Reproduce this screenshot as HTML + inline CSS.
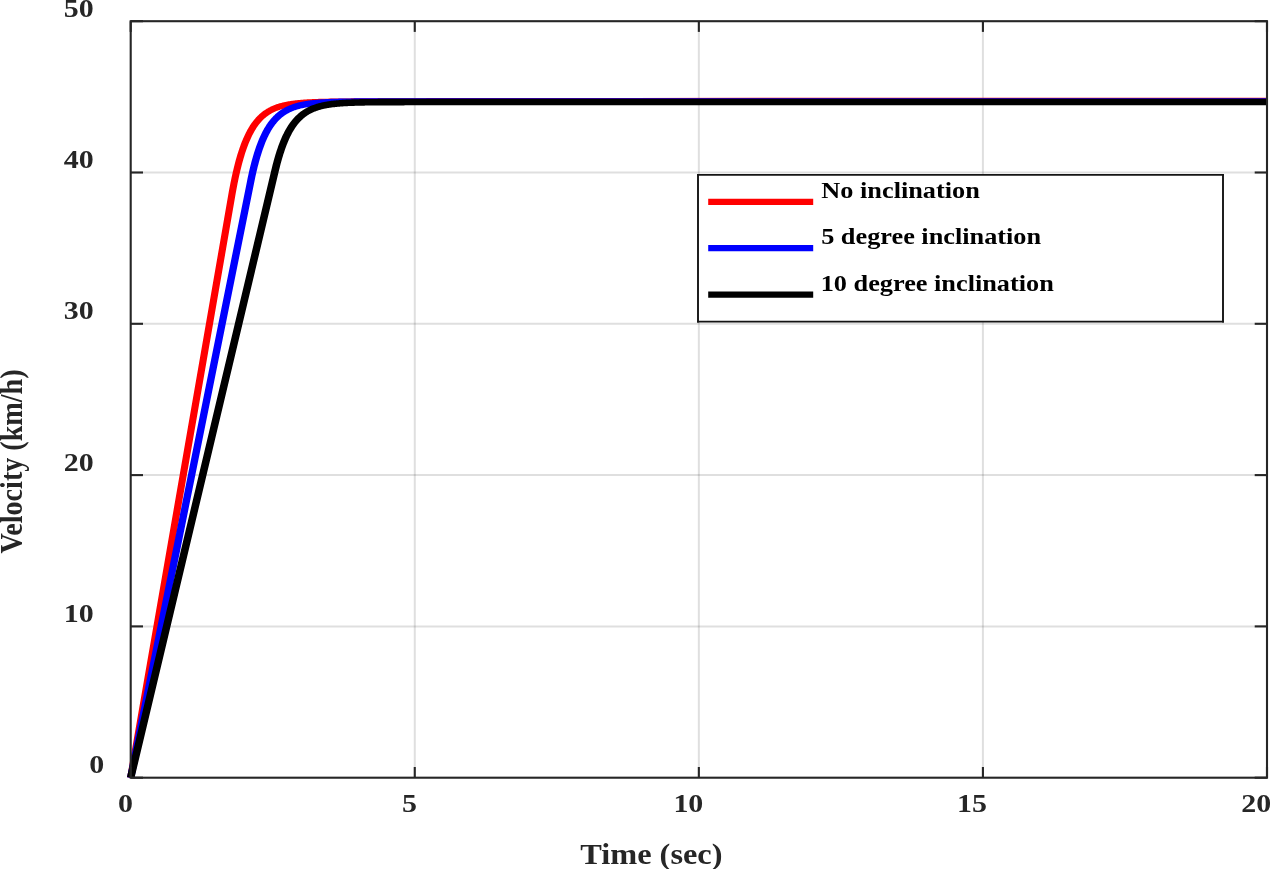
<!DOCTYPE html>
<html><head><meta charset="utf-8"><style>
html,body{margin:0;padding:0;background:#fff;overflow:hidden;}
svg{display:block;will-change:transform;}
text{font-family:"Liberation Serif",serif;font-weight:bold;}
</style></head><body>
<svg width="1270" height="869" viewBox="0 0 1270 869">
<rect width="1270" height="869" fill="#fff"/>

<g stroke="#262626" stroke-opacity="0.15" stroke-width="2"><line x1="414.77" y1="21.20" x2="414.77" y2="777.70"/><line x1="698.85" y1="21.20" x2="698.85" y2="777.70"/><line x1="982.92" y1="21.20" x2="982.92" y2="777.70"/><line x1="130.70" y1="626.40" x2="1267.00" y2="626.40"/><line x1="130.70" y1="475.10" x2="1267.00" y2="475.10"/><line x1="130.70" y1="323.80" x2="1267.00" y2="323.80"/><line x1="130.70" y1="172.50" x2="1267.00" y2="172.50"/></g>
<clipPath id="c"><rect x="108.43" y="1.20" width="993.30" height="777.50"/></clipPath>
<g transform="scale(1.15,1)" clip-path="url(#c)" fill="none" stroke-width="6.0" stroke-linejoin="round">
<path stroke="#ff0000" stroke-width="6.2" d="M113.65,777.70 L201.51,195.53 L202.00,192.31 L202.49,189.20 L202.99,186.20 L203.48,183.31 L203.98,180.51 L204.47,177.81 L204.96,175.20 L205.46,172.68 L205.95,170.24 L206.45,167.89 L206.94,165.62 L207.43,163.43 L207.93,161.32 L208.42,159.27 L208.92,157.30 L209.41,155.39 L209.90,153.55 L210.40,151.77 L210.89,150.06 L211.39,148.40 L211.88,146.80 L212.37,145.25 L212.87,143.76 L213.36,142.32 L213.86,140.93 L214.35,139.58 L214.85,138.28 L215.34,137.03 L215.83,135.82 L216.33,134.65 L216.82,133.52 L217.32,132.43 L217.81,131.37 L218.30,130.35 L218.80,129.37 L219.29,128.42 L219.79,127.51 L220.28,126.62 L220.77,125.77 L221.27,124.94 L221.76,124.14 L222.26,123.37 L222.75,122.63 L223.24,121.91 L223.74,121.22 L224.23,120.55 L224.73,119.90 L225.22,119.28 L225.71,118.67 L226.21,118.09 L226.70,117.53 L227.20,116.98 L227.69,116.46 L228.18,115.95 L228.68,115.46 L229.17,114.99 L229.67,114.53 L230.16,114.09 L230.65,113.66 L231.15,113.25 L231.64,112.85 L232.14,112.47 L232.63,112.10 L233.12,111.74 L233.62,111.39 L234.11,111.06 L234.61,110.74 L235.10,110.42 L235.59,110.12 L236.09,109.83 L236.58,109.55 L237.08,109.28 L237.57,109.02 L238.07,108.76 L238.56,108.52 L239.05,108.28 L239.55,108.05 L240.04,107.83 L240.54,107.62 L241.03,107.41 L241.52,107.21 L242.02,107.02 L242.51,106.84 L243.01,106.66 L243.50,106.48 L243.99,106.32 L244.49,106.15 L244.98,106.00 L245.48,105.85 L245.97,105.70 L246.46,105.56 L246.96,105.42 L247.45,105.29 L247.95,105.17 L248.44,105.04 L248.93,104.92 L249.43,104.81 L249.92,104.70 L250.42,104.59 L250.91,104.49 L251.40,104.39 L251.90,104.29 L252.39,104.20 L252.89,104.11 L253.38,104.02 L253.87,103.93 L254.37,103.85 L254.86,103.77 L255.36,103.70 L255.85,103.62 L256.34,103.55 L256.84,103.48 L257.33,103.42 L257.83,103.35 L258.32,103.29 L258.82,103.23 L259.31,103.17 L259.80,103.12 L260.30,103.06 L260.79,103.01 L261.29,102.96 L261.78,102.91 L262.27,102.86 L262.77,102.82 L263.26,102.77 L263.76,102.73 L264.25,102.69 L264.74,102.65 L265.24,102.61 L265.73,102.57 L266.23,102.53 L266.72,102.50 L267.21,102.46 L267.71,102.43 L268.20,102.40 L268.70,102.37 L269.19,102.34 L269.68,102.31 L270.18,102.28 L270.67,102.25 L271.17,102.23 L271.66,102.20 L272.15,102.18 L272.65,102.15 L273.14,102.13 L273.64,102.11 L274.13,102.08 L274.62,102.06 L275.12,102.04 L275.61,102.02 L276.11,102.00 L276.60,101.99 L277.09,101.97 L277.59,101.95 L278.08,101.93 L278.58,101.92 L279.07,101.90 L279.56,101.89 L280.06,101.87 L280.55,101.86 L281.05,101.84 L281.54,101.83 L282.04,101.82 L282.53,101.80 L283.02,101.79 L283.52,101.78 L284.01,101.77 L284.51,101.75 L285.00,101.74 L285.49,101.73 L285.99,101.72 L286.48,101.71 L286.98,101.70 L287.47,101.69 L287.96,101.68 L288.46,101.67 L288.95,101.67 L289.45,101.66 L289.94,101.65 L290.43,101.64 L290.93,101.63 L291.42,101.62 L291.92,101.62 L292.41,101.61 L292.90,101.60 L293.40,101.60 L293.89,101.59 L294.39,101.58 L294.88,101.58 L295.37,101.57 L295.87,101.56 L296.36,101.56 L296.86,101.55 L297.35,101.55 L297.84,101.54 L298.34,101.54 L298.83,101.53 L299.33,101.53 L299.82,101.52 L300.31,101.52 L300.81,101.51 L301.30,101.51 L301.80,101.50 L302.29,101.50 L302.78,101.49 L303.28,101.49 L303.77,101.48 L304.27,101.48 L304.76,101.48 L305.26,101.47 L305.75,101.47 L306.24,101.46 L306.74,101.46 L307.23,101.46 L307.73,101.45 L308.22,101.45 L308.71,101.45 L309.21,101.44 L309.70,101.44 L310.20,101.44 L310.69,101.43 L311.18,101.43 L311.68,101.43 L312.17,101.42 L312.67,101.42 L313.16,101.42 L313.65,101.42 L314.15,101.41 L314.64,101.41 L315.14,101.41 L315.63,101.41 L316.12,101.40 L316.62,101.40 L317.11,101.40 L317.61,101.39 L318.10,101.39 L318.59,101.39 L319.09,101.39 L319.58,101.39 L320.08,101.38 L320.57,101.38 L321.06,101.38 L321.56,101.38 L322.05,101.37 L322.55,101.37 L323.04,101.37 L323.53,101.37 L324.03,101.37 L324.52,101.36 L325.02,101.36 L325.51,101.36 L326.00,101.36 L326.50,101.35 L326.99,101.35 L327.49,101.35 L327.98,101.35 L328.48,101.35 L328.97,101.35 L329.46,101.34 L329.96,101.34 L330.45,101.34 L330.95,101.34 L331.44,101.34 L331.93,101.33 L332.43,101.33 L332.92,101.33 L333.42,101.33 L333.91,101.33 L334.40,101.33 L334.90,101.32 L335.39,101.32 L335.89,101.32 L336.38,101.32 L336.87,101.32 L337.37,101.32 L337.86,101.31 L338.36,101.31 L338.85,101.31 L339.34,101.31 L339.84,101.31 L340.33,101.31 L340.83,101.30 L341.32,101.30 L341.81,101.30 L342.31,101.30 L342.80,101.30 L343.30,101.30 L343.79,101.30 L344.28,101.29 L344.78,101.29 L345.27,101.29 L345.77,101.29 L346.26,101.29 L346.75,101.29 L347.25,101.29 L347.74,101.28 L348.24,101.28 L348.73,101.28 L349.22,101.28 L349.72,101.28 L350.21,101.28 L350.71,101.28 L351.20,101.27 L351.70,101.27 L352.19,101.27 L352.68,101.27 L353.18,101.27 L353.67,101.27 L354.17,101.27 L354.66,101.26 L355.15,101.26 L355.65,101.26 L356.14,101.26 L356.64,101.26 L357.13,101.26 L357.62,101.26 L358.12,101.26 L358.61,101.25 L359.11,101.25 L359.60,101.25 L360.09,101.25 L360.59,101.25 L361.08,101.25 L361.58,101.25 L362.07,101.25 L362.56,101.24 L363.06,101.24 L363.55,101.24 L364.05,101.24 L364.54,101.24 L365.03,101.24 L365.53,101.24 L366.02,101.24 L366.52,101.24 L367.01,101.23 L367.50,101.23 L368.00,101.23 L368.49,101.23 L368.99,101.23 L369.48,101.23 L369.97,101.23 L370.47,101.23 L370.96,101.22 L371.46,101.22 L371.95,101.22 L372.45,101.22 L372.94,101.22 L373.43,101.22 L373.93,101.22 L374.42,101.22 L374.92,101.22 L375.41,101.21 L375.90,101.21 L376.40,101.21 L376.89,101.21 L377.39,101.21 L377.88,101.21 L378.37,101.21 L378.87,101.21 L379.36,101.21 L379.86,101.20 L380.35,101.20 L380.84,101.20 L381.34,101.20 L381.83,101.20 L382.33,101.20 L382.82,101.20 L383.31,101.20 L383.81,101.20 L384.30,101.20 L384.80,101.19 L385.29,101.19 L385.78,101.19 L386.28,101.19 L386.77,101.19 L387.27,101.19 L387.76,101.19 L388.25,101.19 L388.75,101.19 L389.24,101.19 L389.74,101.18 L390.23,101.18 L390.72,101.18 L391.22,101.18 L391.71,101.18 L392.21,101.18 L392.70,101.18 L393.19,101.18 L393.69,101.18 L394.18,101.18 L394.68,101.17 L395.17,101.17 L395.67,101.17 L396.16,101.17 L396.65,101.17 L397.15,101.17 L397.64,101.17 L398.14,101.17 L398.63,101.17 L399.12,101.17 L399.62,101.17 L448.53,101.09 L547.34,101.00 L706.50,100.93 L904.12,100.91 L1126.44,100.90"/>
<path stroke="#0000ff" stroke-width="6.4" d="M113.65,777.70 L217.95,181.70 L218.44,178.93 L218.93,176.25 L219.43,173.67 L219.92,171.17 L220.42,168.77 L220.91,166.44 L221.41,164.20 L221.90,162.04 L222.39,159.95 L222.89,157.94 L223.38,155.99 L223.88,154.12 L224.37,152.30 L224.86,150.56 L225.36,148.87 L225.85,147.24 L226.35,145.67 L226.84,144.15 L227.33,142.68 L227.83,141.27 L228.32,139.90 L228.82,138.58 L229.31,137.31 L229.80,136.08 L230.30,134.90 L230.79,133.75 L231.29,132.65 L231.78,131.58 L232.27,130.55 L232.77,129.56 L233.26,128.60 L233.76,127.67 L234.25,126.78 L234.74,125.91 L235.24,125.08 L235.73,124.27 L236.23,123.49 L236.72,122.74 L237.21,122.02 L237.71,121.32 L238.20,120.64 L238.70,119.99 L239.19,119.36 L239.68,118.75 L240.18,118.16 L240.67,117.59 L241.17,117.05 L241.66,116.52 L242.15,116.01 L242.65,115.51 L243.14,115.04 L243.64,114.58 L244.13,114.13 L244.63,113.70 L245.12,113.29 L245.61,112.89 L246.11,112.50 L246.60,112.13 L247.10,111.76 L247.59,111.42 L248.08,111.08 L248.58,110.75 L249.07,110.44 L249.57,110.14 L250.06,109.84 L250.55,109.56 L251.05,109.29 L251.54,109.02 L252.04,108.77 L252.53,108.52 L253.02,108.28 L253.52,108.05 L254.01,107.83 L254.51,107.61 L255.00,107.41 L255.49,107.21 L255.99,107.01 L256.48,106.83 L256.98,106.64 L257.47,106.47 L257.96,106.30 L258.46,106.14 L258.95,105.98 L259.45,105.83 L259.94,105.68 L260.43,105.54 L260.93,105.40 L261.42,105.27 L261.92,105.14 L262.41,105.02 L262.90,104.90 L263.40,104.78 L263.89,104.67 L264.39,104.56 L264.88,104.46 L265.37,104.35 L265.87,104.26 L266.36,104.16 L266.86,104.07 L267.35,103.98 L267.85,103.90 L268.34,103.82 L268.83,103.74 L269.33,103.66 L269.82,103.58 L270.32,103.51 L270.81,103.44 L271.30,103.38 L271.80,103.31 L272.29,103.25 L272.79,103.19 L273.28,103.13 L273.77,103.07 L274.27,103.02 L274.76,102.96 L275.26,102.91 L275.75,102.86 L276.24,102.82 L276.74,102.77 L277.23,102.73 L277.73,102.68 L278.22,102.64 L278.71,102.60 L279.21,102.56 L279.70,102.52 L280.20,102.49 L280.69,102.45 L281.18,102.42 L281.68,102.38 L282.17,102.35 L282.67,102.32 L283.16,102.29 L283.65,102.26 L284.15,102.23 L284.64,102.21 L285.14,102.18 L285.63,102.16 L286.12,102.13 L286.62,102.11 L287.11,102.08 L287.61,102.06 L288.10,102.04 L288.59,102.02 L289.09,102.00 L289.58,101.98 L290.08,101.96 L290.57,101.94 L291.07,101.93 L291.56,101.91 L292.05,101.89 L292.55,101.88 L293.04,101.86 L293.54,101.85 L294.03,101.83 L294.52,101.82 L295.02,101.81 L295.51,101.79 L296.01,101.78 L296.50,101.77 L296.99,101.76 L297.49,101.74 L297.98,101.73 L298.48,101.72 L298.97,101.71 L299.46,101.70 L299.96,101.69 L300.45,101.68 L300.95,101.67 L301.44,101.67 L301.93,101.66 L302.43,101.65 L302.92,101.64 L303.42,101.63 L303.91,101.63 L304.40,101.62 L304.90,101.61 L305.39,101.60 L305.89,101.60 L306.38,101.59 L306.87,101.59 L307.37,101.58 L307.86,101.57 L308.36,101.57 L308.85,101.56 L309.34,101.56 L309.84,101.55 L310.33,101.55 L310.83,101.54 L311.32,101.54 L311.81,101.53 L312.31,101.53 L312.80,101.53 L313.30,101.52 L313.79,101.52 L314.29,101.51 L314.78,101.51 L315.27,101.51 L315.77,101.50 L316.26,101.50 L316.76,101.50 L317.25,101.49 L317.74,101.49 L318.24,101.49 L318.73,101.49 L319.23,101.48 L319.72,101.48 L320.21,101.48 L320.71,101.48 L321.20,101.47 L321.70,101.47 L322.19,101.47 L322.68,101.47 L323.18,101.46 L323.67,101.46 L324.17,101.46 L324.66,101.46 L325.15,101.46 L325.65,101.45 L326.14,101.45 L326.64,101.45 L327.13,101.45 L327.62,101.45 L328.12,101.45 L328.61,101.45 L329.11,101.44 L329.60,101.44 L330.09,101.44 L330.59,101.44 L331.08,101.44 L331.58,101.44 L332.07,101.44 L332.56,101.44 L333.06,101.43 L333.55,101.43 L334.05,101.43 L334.54,101.43 L335.04,101.43 L335.53,101.43 L336.02,101.43 L336.52,101.43 L337.01,101.43 L337.51,101.43 L338.00,101.42 L338.49,101.42 L338.99,101.42 L339.48,101.42 L339.98,101.42 L340.47,101.42 L340.96,101.42 L341.46,101.42 L341.95,101.42 L342.45,101.42 L342.94,101.42 L343.43,101.42 L343.93,101.42 L344.42,101.42 L344.92,101.42 L345.41,101.42 L345.90,101.41 L346.40,101.41 L346.89,101.41 L347.39,101.41 L347.88,101.41 L348.37,101.41 L348.87,101.41 L349.36,101.41 L349.86,101.41 L350.35,101.41 L350.84,101.41 L351.34,101.41 L351.83,101.41 L352.33,101.41 L352.82,101.41 L353.31,101.41 L353.81,101.41 L354.30,101.41 L354.80,101.41 L355.29,101.41 L355.78,101.41 L356.28,101.41 L356.77,101.41 L357.27,101.41 L357.76,101.41 L358.26,101.41 L358.75,101.41 L359.24,101.41 L359.74,101.41 L360.23,101.41 L360.73,101.41 L361.22,101.41 L361.71,101.41 L362.21,101.41 L362.70,101.40 L363.20,101.40 L363.69,101.40 L364.18,101.40 L364.68,101.40 L365.17,101.40 L365.67,101.40 L366.16,101.40 L366.65,101.40 L367.15,101.40 L367.64,101.40 L368.14,101.40 L368.63,101.40 L369.12,101.40 L369.62,101.40 L370.11,101.40 L370.61,101.40 L371.10,101.40 L371.59,101.40 L372.09,101.40 L372.58,101.40 L373.08,101.40 L373.57,101.40 L374.06,101.40 L374.56,101.40 L375.05,101.40 L375.55,101.40 L376.04,101.40 L376.53,101.40 L377.03,101.40 L377.52,101.40 L378.02,101.40 L378.51,101.40 L379.00,101.40 L379.50,101.40 L379.99,101.40 L380.49,101.40 L380.98,101.40 L381.48,101.40 L381.97,101.40 L382.46,101.40 L382.96,101.40 L383.45,101.40 L383.95,101.40 L384.44,101.40 L384.93,101.40 L385.43,101.40 L385.92,101.40 L386.42,101.40 L386.91,101.40 L387.40,101.40 L387.90,101.40 L388.39,101.40 L388.89,101.40 L389.38,101.40 L389.87,101.40 L390.37,101.40 L390.86,101.40 L391.36,101.40 L391.85,101.40 L392.34,101.40 L392.84,101.40 L393.33,101.40 L393.83,101.40 L394.32,101.40 L394.81,101.40 L395.31,101.40 L395.80,101.40 L396.30,101.40 L396.79,101.40 L397.28,101.40 L397.78,101.40 L398.27,101.40 L398.77,101.40 L399.26,101.40 L399.75,101.40 L400.25,101.40 L400.74,101.40 L401.24,101.40 L401.73,101.40 L402.22,101.40 L402.72,101.40 L403.21,101.40 L403.71,101.40 L404.20,101.40 L404.70,101.40 L405.19,101.40 L405.68,101.40 L406.18,101.40 L406.67,101.40 L407.17,101.40 L407.66,101.40 L408.15,101.40 L408.65,101.40 L409.14,101.40 L409.64,101.40 L410.13,101.40 L410.62,101.40 L411.12,101.40 L411.61,101.40 L412.11,101.40 L412.60,101.40 L413.09,101.40 L413.59,101.40 L414.08,101.40 L414.58,101.40 L415.07,101.40 L415.56,101.40 L416.06,101.40 L464.97,101.40 L563.78,101.40 L706.50,101.40 L904.12,101.40 L1126.44,101.40"/>
<path stroke="#000000" stroke-width="6.6" d="M113.65,777.70 L239.29,170.19 L239.79,167.84 L240.28,165.57 L240.77,163.38 L241.27,161.27 L241.76,159.23 L242.26,157.26 L242.75,155.36 L243.24,153.52 L243.74,151.75 L244.23,150.04 L244.73,148.39 L245.22,146.79 L245.71,145.25 L246.21,143.76 L246.70,142.33 L247.20,140.94 L247.69,139.60 L248.19,138.31 L248.68,137.06 L249.17,135.86 L249.67,134.69 L250.16,133.57 L250.66,132.48 L251.15,131.44 L251.64,130.43 L252.14,129.45 L252.63,128.51 L253.13,127.60 L253.62,126.72 L254.11,125.87 L254.61,125.05 L255.10,124.26 L255.60,123.49 L256.09,122.76 L256.58,122.04 L257.08,121.36 L257.57,120.69 L258.07,120.05 L258.56,119.43 L259.05,118.84 L259.55,118.26 L260.04,117.70 L260.54,117.16 L261.03,116.64 L261.52,116.14 L262.02,115.66 L262.51,115.19 L263.01,114.74 L263.50,114.30 L263.99,113.88 L264.49,113.47 L264.98,113.08 L265.48,112.70 L265.97,112.34 L266.46,111.98 L266.96,111.64 L267.45,111.31 L267.95,110.99 L268.44,110.69 L268.93,110.39 L269.43,110.10 L269.92,109.83 L270.42,109.56 L270.91,109.30 L271.41,109.05 L271.90,108.81 L272.39,108.58 L272.89,108.36 L273.38,108.14 L273.88,107.93 L274.37,107.73 L274.86,107.53 L275.36,107.35 L275.85,107.16 L276.35,106.99 L276.84,106.82 L277.33,106.66 L277.83,106.50 L278.32,106.35 L278.82,106.20 L279.31,106.06 L279.80,105.92 L280.30,105.79 L280.79,105.66 L281.29,105.53 L281.78,105.41 L282.27,105.30 L282.77,105.19 L283.26,105.08 L283.76,104.98 L284.25,104.88 L284.74,104.78 L285.24,104.69 L285.73,104.59 L286.23,104.51 L286.72,104.42 L287.21,104.34 L287.71,104.26 L288.20,104.19 L288.70,104.11 L289.19,104.04 L289.68,103.98 L290.18,103.91 L290.67,103.85 L291.17,103.78 L291.66,103.72 L292.16,103.67 L292.65,103.61 L293.14,103.56 L293.64,103.51 L294.13,103.46 L294.63,103.41 L295.12,103.36 L295.61,103.32 L296.11,103.27 L296.60,103.23 L297.10,103.19 L297.59,103.15 L298.08,103.11 L298.58,103.08 L299.07,103.04 L299.57,103.01 L300.06,102.98 L300.55,102.94 L301.05,102.91 L301.54,102.88 L302.04,102.86 L302.53,102.83 L303.02,102.80 L303.52,102.78 L304.01,102.75 L304.51,102.73 L305.00,102.70 L305.49,102.68 L305.99,102.66 L306.48,102.64 L306.98,102.62 L307.47,102.60 L307.96,102.58 L308.46,102.56 L308.95,102.55 L309.45,102.53 L309.94,102.51 L310.43,102.50 L310.93,102.48 L311.42,102.47 L311.92,102.45 L312.41,102.44 L312.90,102.42 L313.40,102.41 L313.89,102.40 L314.39,102.39 L314.88,102.38 L315.38,102.37 L315.87,102.35 L316.36,102.34 L316.86,102.33 L317.35,102.32 L317.85,102.31 L318.34,102.31 L318.83,102.30 L319.33,102.29 L319.82,102.28 L320.32,102.27 L320.81,102.27 L321.30,102.26 L321.80,102.25 L322.29,102.24 L322.79,102.24 L323.28,102.23 L323.77,102.22 L324.27,102.22 L324.76,102.21 L325.26,102.21 L325.75,102.20 L326.24,102.20 L326.74,102.19 L327.23,102.19 L327.73,102.18 L328.22,102.18 L328.71,102.17 L329.21,102.17 L329.70,102.17 L330.20,102.16 L330.69,102.16 L331.18,102.15 L331.68,102.15 L332.17,102.15 L332.67,102.14 L333.16,102.14 L333.65,102.14 L334.15,102.13 L334.64,102.13 L335.14,102.13 L335.63,102.13 L336.12,102.12 L336.62,102.12 L337.11,102.12 L337.61,102.12 L338.10,102.11 L338.60,102.11 L339.09,102.11 L339.58,102.11 L340.08,102.11 L340.57,102.10 L341.07,102.10 L341.56,102.10 L342.05,102.10 L342.55,102.10 L343.04,102.10 L343.54,102.09 L344.03,102.09 L344.52,102.09 L345.02,102.09 L345.51,102.09 L346.01,102.09 L346.50,102.09 L346.99,102.08 L347.49,102.08 L347.98,102.08 L348.48,102.08 L348.97,102.08 L349.46,102.08 L349.96,102.08 L350.45,102.08 L350.95,102.08 L351.44,102.08 L351.93,102.07 L352.43,102.07 L352.92,102.07 L353.42,102.07 L353.91,102.07 L354.40,102.07 L354.90,102.07 L355.39,102.07 L355.89,102.07 L356.38,102.07 L356.87,102.07 L357.37,102.07 L357.86,102.07 L358.36,102.07 L358.85,102.07 L359.34,102.06 L359.84,102.06 L360.33,102.06 L360.83,102.06 L361.32,102.06 L361.82,102.06 L362.31,102.06 L362.80,102.06 L363.30,102.06 L363.79,102.06 L364.29,102.06 L364.78,102.06 L365.27,102.06 L365.77,102.06 L366.26,102.06 L366.76,102.06 L367.25,102.06 L367.74,102.06 L368.24,102.06 L368.73,102.06 L369.23,102.06 L369.72,102.06 L370.21,102.06 L370.71,102.06 L371.20,102.06 L371.70,102.06 L372.19,102.06 L372.68,102.06 L373.18,102.06 L373.67,102.06 L374.17,102.06 L374.66,102.06 L375.15,102.05 L375.65,102.05 L376.14,102.05 L376.64,102.05 L377.13,102.05 L377.62,102.05 L378.12,102.05 L378.61,102.05 L379.11,102.05 L379.60,102.05 L380.09,102.05 L380.59,102.05 L381.08,102.05 L381.58,102.05 L382.07,102.05 L382.56,102.05 L383.06,102.05 L383.55,102.05 L384.05,102.05 L384.54,102.05 L385.04,102.05 L385.53,102.05 L386.02,102.05 L386.52,102.05 L387.01,102.05 L387.51,102.05 L388.00,102.05 L388.49,102.05 L388.99,102.05 L389.48,102.05 L389.98,102.05 L390.47,102.05 L390.96,102.05 L391.46,102.05 L391.95,102.05 L392.45,102.05 L392.94,102.05 L393.43,102.05 L393.93,102.05 L394.42,102.05 L394.92,102.05 L395.41,102.05 L395.90,102.05 L396.40,102.05 L396.89,102.05 L397.39,102.05 L397.88,102.05 L398.37,102.05 L398.87,102.05 L399.36,102.05 L399.86,102.05 L400.35,102.05 L400.84,102.05 L401.34,102.05 L401.83,102.05 L402.33,102.05 L402.82,102.05 L403.31,102.05 L403.81,102.05 L404.30,102.05 L404.80,102.05 L405.29,102.05 L405.79,102.05 L406.28,102.05 L406.77,102.05 L407.27,102.05 L407.76,102.05 L408.26,102.05 L408.75,102.05 L409.24,102.05 L409.74,102.05 L410.23,102.05 L410.73,102.05 L411.22,102.05 L411.71,102.05 L412.21,102.05 L412.70,102.05 L413.20,102.05 L413.69,102.05 L414.18,102.05 L414.68,102.05 L415.17,102.05 L415.67,102.05 L416.16,102.05 L416.65,102.05 L417.15,102.05 L417.64,102.05 L418.14,102.05 L418.63,102.05 L419.12,102.05 L419.62,102.05 L420.11,102.05 L420.61,102.05 L421.10,102.05 L421.59,102.05 L422.09,102.05 L422.58,102.05 L423.08,102.05 L423.57,102.05 L424.06,102.05 L424.56,102.05 L425.05,102.05 L425.55,102.05 L426.04,102.05 L426.53,102.05 L427.03,102.05 L427.52,102.05 L428.02,102.05 L428.51,102.05 L429.01,102.05 L429.50,102.05 L429.99,102.05 L430.49,102.05 L430.98,102.05 L431.48,102.05 L431.97,102.05 L432.46,102.05 L432.96,102.05 L433.45,102.05 L433.95,102.05 L434.44,102.05 L434.93,102.05 L435.43,102.05 L435.92,102.05 L436.42,102.05 L436.91,102.05 L437.40,102.05 L486.31,102.05 L585.12,102.05 L706.50,102.05 L904.12,102.05 L1126.44,102.05"/>
</g>
<g stroke="#262626" stroke-width="2.1" fill="none"><rect x="130.70" y="21.20" width="1136.30" height="756.50" fill="none"/><line x1="130.70" y1="777.70" x2="130.70" y2="767.00"/><line x1="130.70" y1="21.20" x2="130.70" y2="31.90"/><line x1="414.77" y1="777.70" x2="414.77" y2="767.00"/><line x1="414.77" y1="21.20" x2="414.77" y2="31.90"/><line x1="698.85" y1="777.70" x2="698.85" y2="767.00"/><line x1="698.85" y1="21.20" x2="698.85" y2="31.90"/><line x1="982.92" y1="777.70" x2="982.92" y2="767.00"/><line x1="982.92" y1="21.20" x2="982.92" y2="31.90"/><line x1="1267.00" y1="777.70" x2="1267.00" y2="767.00"/><line x1="1267.00" y1="21.20" x2="1267.00" y2="31.90"/><line x1="130.70" y1="777.70" x2="143.00" y2="777.70"/><line x1="1267.00" y1="777.70" x2="1254.70" y2="777.70"/><line x1="130.70" y1="626.40" x2="143.00" y2="626.40"/><line x1="1267.00" y1="626.40" x2="1254.70" y2="626.40"/><line x1="130.70" y1="475.10" x2="143.00" y2="475.10"/><line x1="1267.00" y1="475.10" x2="1254.70" y2="475.10"/><line x1="130.70" y1="323.80" x2="143.00" y2="323.80"/><line x1="1267.00" y1="323.80" x2="1254.70" y2="323.80"/><line x1="130.70" y1="172.50" x2="143.00" y2="172.50"/><line x1="1267.00" y1="172.50" x2="1254.70" y2="172.50"/><line x1="130.70" y1="21.20" x2="143.00" y2="21.20"/><line x1="1267.00" y1="21.20" x2="1254.70" y2="21.20"/></g>
<text transform="translate(104.30,773.30) scale(1.1470,1)" font-size="26.10" text-anchor="end" fill="#262626">0</text>
<text transform="translate(93.70,622.00) scale(1.1470,1)" font-size="26.10" text-anchor="end" fill="#262626">10</text>
<text transform="translate(93.70,470.70) scale(1.1470,1)" font-size="26.10" text-anchor="end" fill="#262626">20</text>
<text transform="translate(93.70,319.40) scale(1.1470,1)" font-size="26.10" text-anchor="end" fill="#262626">30</text>
<text transform="translate(93.70,168.10) scale(1.1470,1)" font-size="26.10" text-anchor="end" fill="#262626">40</text>
<text transform="translate(93.70,16.80) scale(1.1470,1)" font-size="26.10" text-anchor="end" fill="#262626">50</text>
<text transform="translate(125.60,812.30) scale(1.1470,1)" font-size="26.10" text-anchor="middle" fill="#262626">0</text>
<text transform="translate(409.40,812.30) scale(1.1470,1)" font-size="26.10" text-anchor="middle" fill="#262626">5</text>
<text transform="translate(688.35,812.30) scale(1.1470,1)" font-size="26.10" text-anchor="middle" fill="#262626">10</text>
<text transform="translate(971.95,812.30) scale(1.1470,1)" font-size="26.10" text-anchor="middle" fill="#262626">15</text>
<text transform="translate(1256.20,812.30) scale(1.1470,1)" font-size="26.10" text-anchor="middle" fill="#262626">20</text>
<text transform="translate(580.20,863.70) scale(1.1220,1)" font-size="28.85" text-anchor="start" fill="#262626">Time (sec)</text>
<text transform="translate(22.1,553.48) rotate(-90) scale(1,1.1443)" font-size="28.14" fill="#262626">Velocity (km/h)</text>
<rect x="698" y="174.8" width="525" height="146.9" fill="#fff"/>
<g stroke="#141414" fill="none"><path stroke-width="1.6" d="M697,174.9 H1224 M697,321.6 H1224"/><path stroke-width="1.9" d="M698,174.1 V322.4 M1223,174.1 V322.4"/></g>
<line x1="708.2" y1="201.8" x2="813.2" y2="201.8" stroke="#ff0000" stroke-width="6.2"/>
<line x1="708.2" y1="248.1" x2="813.2" y2="248.1" stroke="#0000ff" stroke-width="6.2"/>
<line x1="708.2" y1="294.6" x2="813.2" y2="294.6" stroke="#000000" stroke-width="6.2"/>
<text transform="translate(821.37,197.50) scale(1.1336,1)" font-size="23.20" text-anchor="start" fill="#000">No inclination</text>
<text transform="translate(821.15,243.80) scale(1.1336,1)" font-size="23.20" text-anchor="start" fill="#000">5 degree inclination</text>
<text transform="translate(820.70,290.80) scale(1.1336,1)" font-size="23.20" text-anchor="start" fill="#000">10 degree inclination</text>
</svg></body></html>
